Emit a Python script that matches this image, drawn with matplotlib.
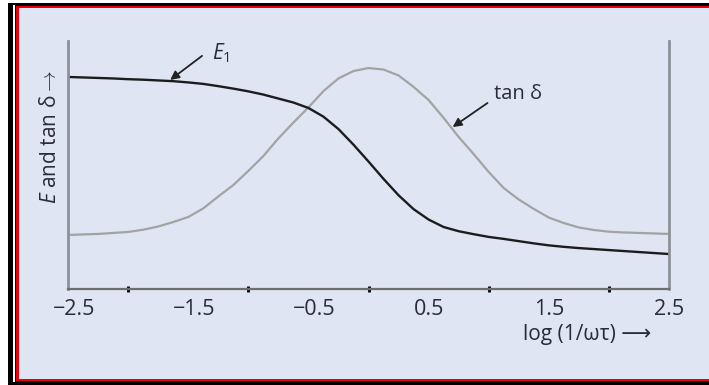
import numpy as np
import matplotlib.pyplot as plt
from matplotlib.patches import Rectangle
from matplotlib.transforms import ScaledTranslation

plt.rcParams['font.family'] = ['Open Sans', 'DejaVu Sans']
plt.rcParams['mathtext.fontset'] = 'custom'
plt.rcParams['mathtext.it'] = 'Open Sans:italic'
plt.rcParams['mathtext.rm'] = 'Open Sans'

# log(1/wt) positions and the two response curves (arbitrary units 0-10)
x_vals = [-2.5, -2.375, -2.25, -2.125, -2.0, -1.875, -1.75, -1.625, -1.5,
          -1.375, -1.25, -1.125, -1.0, -0.875, -0.75, -0.625, -0.5, -0.375,
          -0.25, -0.125, 0.0, 0.125, 0.25, 0.375, 0.5, 0.625, 0.75, 0.875,
          1.0, 1.125, 1.25, 1.375, 1.5, 1.625, 1.75, 1.875, 2.0, 2.125, 2.25,
          2.375, 2.5]
e1 = [8.55, 8.53, 8.51, 8.49, 8.46, 8.44, 8.41, 8.38, 8.33,
      8.27, 8.18, 8.08, 7.97, 7.84, 7.68, 7.52, 7.30, 6.95,
      6.45, 5.82, 5.14, 4.44, 3.78, 3.22, 2.80, 2.50, 2.33, 2.21,
      2.10, 2.02, 1.93, 1.84, 1.76, 1.70, 1.65, 1.61, 1.57, 1.53, 1.49,
      1.45, 1.41]
tan_d = [2.18, 2.20, 2.22, 2.26, 2.30, 2.39, 2.52, 2.70, 2.90,
         3.25, 3.73, 4.19, 4.76, 5.36, 6.07, 6.71, 7.32, 7.98,
         8.49, 8.79, 8.91, 8.85, 8.61, 8.15, 7.62, 6.90, 6.13, 5.44,
         4.72, 4.07, 3.61, 3.23, 2.88, 2.66, 2.48, 2.38, 2.31, 2.28, 2.26,
         2.24, 2.22]

tick_pos = [-2.0, -1.5, -1.0, -0.5, 0.0, 0.5, 1.0, 1.5, 2.0]
label_pos = [-2.5, -1.5, -0.5, 0.5, 1.5, 2.5]
label_txt = ['\u22122.5', '\u22121.5', '\u22120.5', '0.5', '1.5', '2.5']

W, H = 709, 385
fig = plt.figure(figsize=(W / 100, H / 100), dpi=100, facecolor='white')


def box(x0, y0, x1, y1, color):
    # rectangle given in pixels from the top-left corner
    fig.add_artist(Rectangle((x0 / W, 1 - y1 / H), (x1 - x0) / W, (y1 - y0) / H,
                             transform=fig.transFigure, facecolor=color,
                             edgecolor='none', zorder=-10))


# double frame round the panel, open on the right
box(8, 3, W + 5, H + 5, 'black')
box(13, 5, W + 5, 382, 'white')
box(15, 5, W + 5, 382, 'black')
box(16, 6, W + 5, 381, '#e8000b')
box(19, 8, W + 5, 379, '#dfe5f3')

ax = fig.add_axes([68 / W, 1 - 289 / H, (669 - 68) / W, (289 - 41) / H])
ax.set_facecolor('none')
ax.plot(x_vals, tan_d, color='#a3a3a3', lw=1.6, solid_joinstyle='round')
ax.plot(x_vals, e1, color='#1c1c1c', lw=1.7, solid_joinstyle='round')
ax.set_xlim(-2.5, 2.5)
ax.set_ylim(0, 10)

ax.spines['top'].set_visible(False)
for s in ['left', 'right']:
    ax.spines[s].set_color('#8c9099')
    ax.spines[s].set_linewidth(2.0)
ax.spines['bottom'].set_color('#6e6e6e')
ax.spines['bottom'].set_linewidth(1.6)
ax.set_yticks([])

ax.set_xticks(tick_pos, minor=True)
ax.tick_params(axis='x', which='minor', direction='inout', length=5, width=2.2,
               color='#111111')
ax.set_xticks(label_pos, label_txt)
ax.tick_params(axis='x', which='major', length=0, pad=7, labelsize=15.5,
               labelcolor='#2a2a3a')
# negative labels sit a little right so the digits line up over the ticks
for lab in ax.get_xticklabels():
    if lab.get_text().startswith('\u2212'):
        lab.set_transform(lab.get_transform() +
                          ScaledTranslation(6 / 100, 0, fig.dpi_scale_trans))

ax.text(1.82, -1.85, 'log (1/\u03c9\u03c4) \u27f6', fontsize=15, color='#2a2a3a',
        ha='center', va='center', clip_on=False)
fig.text(51 / W, 1 - 137 / H, r'$E$ and tan δ$\rightarrow$',
         rotation=90, fontsize=15, color='#2a2a3a', ha='center', va='center')

arrow = dict(arrowstyle='-|>', color='#222222', lw=1.3, mutation_scale=13,
             shrinkA=0, shrinkB=0)
ax.annotate('', xy=(-1.65, 8.43), xytext=(-1.385, 9.40), arrowprops=arrow)
ax.annotate('', xy=(0.70, 6.53), xytext=(0.99, 7.50), arrowprops=arrow)
ax.text(-1.23, 9.52, r'$E_1$', fontsize=15, color='#2a2a3a', ha='center',
        va='center', clip_on=False)
ax.text(1.245, 7.86, 'tan δ', fontsize=14.5, color='#2a2a3a', ha='center',
        va='center')

fig.savefig('out.png', dpi=100)
